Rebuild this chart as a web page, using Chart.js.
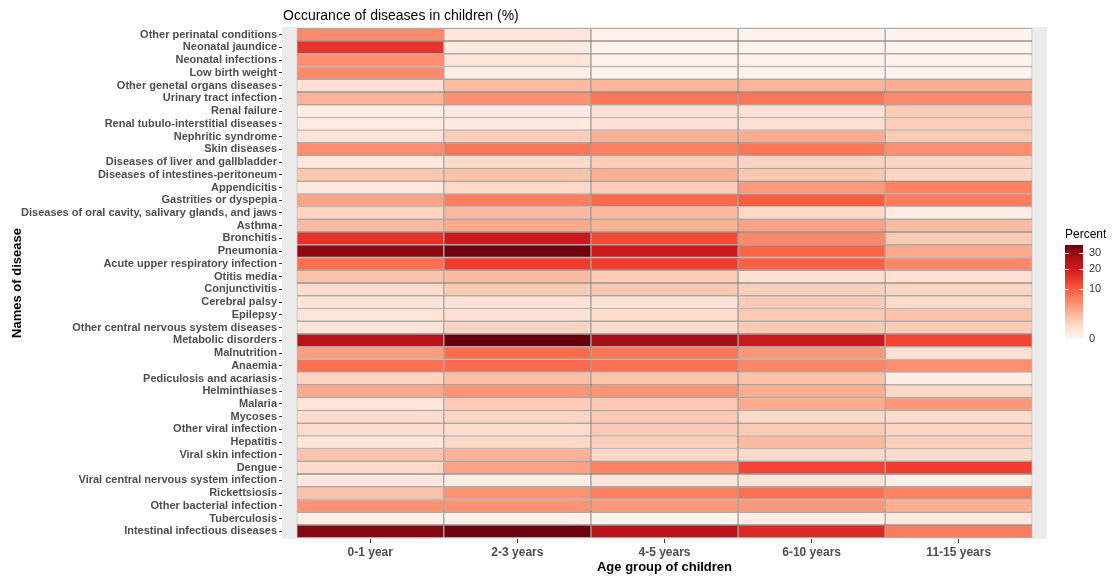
<!DOCTYPE html>
<html>
<head>
<meta charset="utf-8">
<title>Occurance of diseases in children (%)</title>
<script src="https://cdn.jsdelivr.net/npm/chart.js@4/dist/chart.umd.min.js"></script>
<style>
  html, body { margin: 0; padding: 0; background: #ffffff; }
  #wrap { width: 1117px; height: 577px; position: relative; }
</style>
</head>
<body>
<div id="wrap"><canvas id="heat" width="1117" height="577"></canvas></div>
<script>
// Row labels, top to bottom
const diseases = [
  'Other perinatal conditions',
  'Neonatal jaundice',
  'Neonatal infections',
  'Low birth weight',
  'Other genetal organs diseases',
  'Urinary tract infection',
  'Renal failure',
  'Renal tubulo-interstitial diseases',
  'Nephritic syndrome',
  'Skin diseases',
  'Diseases of liver and gallbladder',
  'Diseases of intestines-peritoneum',
  'Appendicitis',
  'Gastrities or dyspepia',
  'Diseases of oral cavity, salivary glands, and jaws',
  'Asthma',
  'Bronchitis',
  'Pneumonia',
  'Acute upper respiratory infection',
  'Otitis media',
  'Conjunctivitis',
  'Cerebral palsy',
  'Epilepsy',
  'Other central nervous system diseases',
  'Metabolic disorders',
  'Malnutrition',
  'Anaemia',
  'Pediculosis and acariasis',
  'Helminthiases',
  'Malaria',
  'Mycoses',
  'Other viral infection',
  'Hepatitis',
  'Viral skin infection',
  'Dengue',
  'Viral central nervous system infection',
  'Rickettsiosis',
  'Other bacterial infection',
  'Tuberculosis',
  'Intestinal infectious diseases'
];

const ageGroups = ['0-1 year', '2-3 years', '4-5 years', '6-10 years', '11-15 years'];

// Percent of children per disease, one array per age group (same order as diseases)
const age0_1 = [
  5.8, 15.5, 5.5, 5.7, 0.5, 2.7, 0.08, 0.12, 0.37, 5.4,
  0.22, 1.6, 0.25, 3.7, 1.03, 2.25, 15.5, 30.5, 8.3, 1.85,
  0.69, 0.41, 0.41, 0.41, 23.8, 4.2, 8.3, 1.0, 3.35, 0.3,
  0.69, 0.69, 0.3, 1.78, 0.75, 0.22, 1.78, 5.0, 0.07, 31.6
];
const age2_3 = [
  0.29, 0.15, 0.33, 0.07, 2.2, 5.2, 0.15, 0.15, 1.3, 7.7,
  0.75, 1.8, 0.87, 6.7, 2.4, 3.35, 20.3, 35.0, 14.0, 2.25,
  1.45, 0.5, 0.5, 1.03, 36.0, 8.8, 9.0, 2.1, 4.8, 1.45,
  1.03, 0.69, 0.87, 2.8, 3.77, 0.07, 5.0, 5.0, 0.03, 35.0
];
const age4_5 = [
  0.01, 0.01, 0.01, 0.01, 2.64, 7.7, 0.56, 0.5, 2.9, 6.8,
  1.43, 3.03, 1.29, 9.0, 2.5, 2.64, 12.3, 20.3, 14.0, 1.43,
  1.55, 0.41, 0.69, 0.69, 27.5, 7.7, 8.3, 1.75, 5.0, 1.55,
  1.5, 1.5, 1.2, 0.87, 6.5, 0.3, 6.7, 4.6, 0.005, 23.8
];
const age6_10 = [
  0.01, 0.01, 0.01, 0.01, 2.64, 7.7, 0.5, 0.56, 3.1, 7.8,
  1.03, 1.55, 4.35, 10.3, 0.87, 3.77, 5.8, 9.6, 10.0, 0.56,
  1.2, 1.43, 1.43, 1.43, 20.3, 4.6, 6.2, 1.85, 3.03, 3.2,
  0.75, 1.43, 2.25, 0.69, 13.0, 0.41, 8.1, 4.6, 0.08, 17.2
];
const age11_15 = [
  0.01, 0.01, 0.01, 0.01, 3.0, 5.8, 1.4, 1.29, 1.45, 5.5,
  1.03, 0.87, 6.6, 7.0, 0.12, 2.25, 1.43, 3.35, 5.8, 0.5,
  0.95, 0.75, 1.8, 1.4, 13.0, 0.56, 5.4, 0.08, 0.87, 4.6,
  0.69, 1.03, 1.2, 0.69, 13.8, 0.07, 6.6, 3.03, 0.25, 7.0
];

const columns = [age0_1, age2_3, age4_5, age6_10, age11_15];
const legendBreaks = [0, 10, 20, 30];

// ColorBrewer "Reds", light to dark, spread over a square-root scale
const reds = ['#FFF5F0', '#FEE0D2', '#FCBBA1', '#FC9272', '#FB6A4A', '#EF3B2C', '#CB181D', '#A50F15', '#67000D'];
const maxValue = Math.max(...columns.flat());

function hexToRgb(h) {
  return [parseInt(h.slice(1, 3), 16), parseInt(h.slice(3, 5), 16), parseInt(h.slice(5, 7), 16)];
}
const redsRgb = reds.map(hexToRgb);

function fillFor(v) {
  const t = Math.min(1, Math.max(0, Math.sqrt(v / maxValue)));
  const pos = t * (redsRgb.length - 1);
  const i = Math.min(redsRgb.length - 2, Math.floor(pos));
  const f = pos - i;
  const a = redsRgb[i], b = redsRgb[i + 1];
  const c = a.map((x, k) => Math.round(x + (b[k] - x) * f));
  return `rgb(${c[0]},${c[1]},${c[2]})`;
}

const FONT = "'Liberation Sans', Arial, Helvetica, sans-serif";

// Grey panel behind the tiles
const panelBackground = {
  id: 'panelBackground',
  beforeDraw(chart) {
    const { ctx, chartArea: a } = chart;
    ctx.save();
    ctx.fillStyle = '#EBEBEB';
    ctx.fillRect(a.left, a.top, a.right - a.left, a.bottom - a.top);
    ctx.restore();
  }
};

// Title, axis titles and the colour-bar legend
const decorations = {
  id: 'decorations',
  afterDraw(chart) {
    const { ctx, chartArea: a } = chart;
    ctx.save();
    ctx.fillStyle = '#000000';
    ctx.textBaseline = 'middle';

    ctx.font = `14px ${FONT}`;
    ctx.textAlign = 'left';
    ctx.fillText('Occurance of diseases in children (%)', a.left + 1, 16);

    ctx.font = `bold 13px ${FONT}`;
    ctx.textAlign = 'center';
    ctx.fillText('Age group of children', (a.left + a.right) / 2, 567);

    ctx.save();
    ctx.translate(17, (a.top + a.bottom) / 2);
    ctx.rotate(-Math.PI / 2);
    ctx.fillText('Names of disease', 0, 0);
    ctx.restore();

    // colour bar
    const barX = 1065, barW = 18, barTop = 245, barBottom = 339;
    const barH = barBottom - barTop;
    ctx.font = `12px ${FONT}`;
    ctx.textAlign = 'left';
    ctx.fillStyle = '#000000';
    ctx.fillText('Percent', barX, 235);

    const grad = ctx.createLinearGradient(0, barBottom, 0, barTop);
    const steps = 60;
    for (let s = 0; s <= steps; s++) {
      const t = s / steps;
      grad.addColorStop(t, fillFor(t * t * maxValue));
    }
    ctx.fillStyle = grad;
    ctx.fillRect(barX, barTop, barW, barH);

    ctx.font = `11px ${FONT}`;
    ctx.strokeStyle = '#ffffff';
    ctx.lineWidth = 1;
    legendBreaks.forEach(b => {
      const y = barBottom - Math.sqrt(b / maxValue) * barH;
      const yy = Math.round(y) + 0.5;
      ctx.beginPath();
      ctx.moveTo(barX, yy); ctx.lineTo(barX + barW / 5, yy);
      ctx.moveTo(barX + barW - barW / 5, yy); ctx.lineTo(barX + barW, yy);
      ctx.stroke();
      ctx.fillStyle = '#333333';
      ctx.fillText(String(b), barX + barW + 6, y);
    });
    ctx.restore();
  }
};

new Chart(document.getElementById('heat'), {
  type: 'bar',
  data: {
    datasets: columns.map((vals, c) => ({
      label: ageGroups[c],
      data: vals.map((v, r) => ({ y: r, x: [c + 0.5, c + 1.5], v })),
      backgroundColor: ctx => (ctx.raw ? fillFor(ctx.raw.v) : '#ffffff'),
      borderColor: '#7a7a7a',
      borderWidth: 0.7,
      borderSkipped: false,
      inflateAmount: 0,
      barPercentage: 1,
      categoryPercentage: 1,
      grouped: false
    }))
  },
  options: {
    indexAxis: 'y',
    responsive: false,
    animation: false,
    devicePixelRatio: 1,
    layout: { padding: { top: 27, right: 70, bottom: 0, left: 0 } },
    plugins: {
      legend: { display: false },
      tooltip: { enabled: false },
      title: { display: false }
    },
    scales: {
      x: {
        type: 'linear',
        position: 'bottom',
        offset: false,
        min: 0.4,
        max: 5.6,
        afterBuildTicks: s => { s.ticks = ageGroups.map((_, i) => ({ value: i + 1 })); },
        afterFit: s => { s.height = 38; s.paddingLeft = 0; s.paddingRight = 0; },
        ticks: {
          autoSkip: false,
          maxRotation: 0,
          padding: 2,
          color: '#4D4D4D',
          font: { family: FONT, size: 12, weight: 'bold' },
          callback: v => ageGroups[v - 1]
        },
        grid: { offset: false, drawOnChartArea: false, drawTicks: true, tickLength: 4, tickColor: '#333333', tickWidth: 1 },
        border: { display: false }
      },
      y: {
        type: 'linear',
        offset: false,
        min: -0.6,
        max: diseases.length - 0.4,
        reverse: true,
        afterBuildTicks: s => { s.ticks = diseases.map((_, i) => ({ value: i })); },
        afterFit: s => { s.width = 282; s.paddingTop = 0; s.paddingBottom = 0; },
        ticks: {
          autoSkip: false,
          padding: 2,
          color: '#4D4D4D',
          font: { family: FONT, size: 11, weight: 'bold' },
          callback: v => diseases[v]
        },
        grid: { offset: false, drawOnChartArea: false, drawTicks: true, tickLength: 3, tickColor: '#333333', tickWidth: 1 },
        border: { display: false }
      }
    }
  },
  plugins: [panelBackground, decorations]
});
</script>
</body>
</html>
